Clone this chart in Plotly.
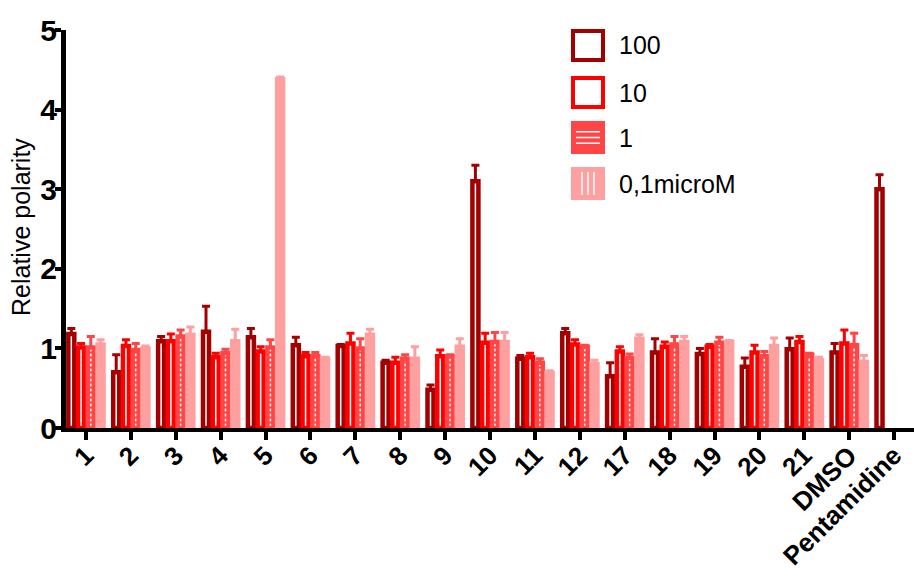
import plotly.graph_objects as go

# Compounds tested (x categories)
categories = ["1", "2", "3", "4", "5", "6", "7", "8", "9", "10", "11", "12",
              "17", "18", "19", "20", "21", "DMSO", "Pentamidine"]

# Relative polarity (mean) and SD per concentration
mean_100 = [1.18, 0.70, 1.09, 1.21, 1.14, 1.04, 1.03, 0.82, 0.48, 3.10,
            0.87, 1.19, 0.65, 0.95, 0.93, 0.77, 0.99, 0.95, 3.00]
sd_100 = [0.07, 0.22, 0.06, 0.32, 0.11, 0.10, 0.02, 0.03, 0.06, 0.20,
          0.04, 0.06, 0.17, 0.17, 0.07, 0.11, 0.14, 0.11, 0.18]

mean_10 = [1.01, 1.03, 1.09, 0.89, 0.96, 0.90, 1.06, 0.82, 0.90, 1.07,
           0.89, 1.05, 0.96, 1.02, 1.02, 0.95, 1.08, 1.06, None]
sd_10 = [0.05, 0.08, 0.09, 0.05, 0.06, 0.05, 0.13, 0.07, 0.08, 0.12,
         0.05, 0.06, 0.06, 0.06, 0.03, 0.09, 0.07, 0.17, None]

mean_1 = [1.01, 0.98, 1.15, 0.94, 1.01, 0.90, 1.00, 0.87, 0.90, 1.08,
          0.82, 1.02, 0.88, 1.05, 1.07, 0.90, 0.92, 1.04, None]
sd_1 = [0.14, 0.08, 0.08, 0.05, 0.10, 0.05, 0.12, 0.05, 0.02, 0.12,
        0.05, 0.02, 0.05, 0.10, 0.07, 0.06, 0.02, 0.15, None]

mean_01 = [1.05, 1.00, 1.17, 1.09, 4.38, 0.87, 1.17, 0.87, 1.02, 1.08,
           0.69, 0.80, 1.12, 1.08, 1.08, 1.03, 0.85, 0.83, None]
sd_01 = [0.06, 0.03, 0.10, 0.15, 0.03, 0.02, 0.07, 0.15, 0.10, 0.12,
         0.03, 0.05, 0.05, 0.07, 0.02, 0.10, 0.04, 0.08, None]

series_names = ["100", "10", "1", "0,1microM"]
colors = ["#A30000", "#FF0000", "#FF4545", "#FFA0A0"]

FONT = "Arial, Liberation Sans, sans-serif"

W, H = 914, 576
M_L, M_R, M_T, M_B = 66, 0, 30, 148
PLOT_W = W - M_L - M_R
PLOT_H = H - M_T - M_B

X_LO = -0.444
X_HI = X_LO + PLOT_W / 44.9
px_per_unit = PLOT_W / (X_HI - X_LO)

slot = 9.75 / px_per_unit          # width of each bar slot in category units
bar_w = 6.0 / px_per_unit          # drawn bar width (outline adds to it)
line_w = 4.5

fig = go.Figure()
xs = list(range(len(categories)))
all_means = [mean_100, mean_10, mean_1, mean_01]
all_sds = [sd_100, sd_10, sd_1, sd_01]

for i, (name, col, m, s) in enumerate(zip(series_names, colors, all_means, all_sds)):
    offset = -2 * slot + i * slot + (slot - bar_w) / 2
    marker = dict(color="white", line=dict(color=col, width=line_w))
    if i == 2:
        marker = dict(color=col, line=dict(color=col, width=line_w),
                      pattern=dict(shape="-", fgcolor=col, bgcolor="white",
                                   size=5, solidity=0.45, fillmode="replace"))
    elif i == 3:
        marker = dict(color=col, line=dict(color=col, width=line_w))
    fig.add_trace(go.Bar(
        x=xs, y=m, name=name, width=bar_w, offset=offset,
        marker=marker, showlegend=False,
        error_y=dict(type="data", symmetric=False, array=s,
                     arrayminus=[0] * len(s), color=col,
                     thickness=3, width=4),
    ))


def px_x(p):
    return (p - M_L) / PLOT_W


def px_y(p):
    return (H - M_B - p) / PLOT_H


# Legend keys drawn as shapes, labels as annotations
shapes = []
annotations = []
key_left, key_right = 573, 603
row_tops = [31, 78, 123, 169]
key_h = 29
for i, (name, col) in enumerate(zip(series_names, colors)):
    top = row_tops[i]
    bot = top + key_h
    fill = "white" if i < 2 else col
    shapes.append(dict(type="rect", xref="paper", yref="paper",
                       x0=px_x(key_left), x1=px_x(key_right),
                       y0=px_y(bot), y1=px_y(top),
                       line=dict(color=col, width=4), fillcolor=fill,
                       layer="above"))
    if i == 2:
        for k in range(1, 4):
            yy = top + 3 + k * (key_h - 6) / 4
            shapes.append(dict(type="line", xref="paper", yref="paper",
                               x0=px_x(key_left + 3), x1=px_x(key_right - 3),
                               y0=px_y(yy), y1=px_y(yy),
                               line=dict(color="white", width=1.5), layer="above"))
    if i == 3:
        for k in range(1, 4):
            xx = key_left + 3 + k * (key_right - key_left - 6) / 4
            shapes.append(dict(type="line", xref="paper", yref="paper",
                               x0=px_x(xx), x1=px_x(xx),
                               y0=px_y(top + 3), y1=px_y(bot - 3),
                               line=dict(color="white", width=1.5), layer="above"))
    annotations.append(dict(xref="paper", yref="paper",
                            x=px_x(617), y=px_y((top + bot) / 2),
                            xanchor="left", yanchor="middle", showarrow=False,
                            text=name,
                            font=dict(family=FONT, size=25, color="black")))

# Y-axis title
annotations.append(dict(xref="paper", yref="paper", x=px_x(21), y=px_y(227),
                        xanchor="center", yanchor="middle", showarrow=False,
                        textangle=-90, text="Relative polarity",
                        font=dict(family=FONT, size=25, color="black")))

fig.update_layout(
    width=W, height=H,
    margin=dict(l=M_L, r=M_R, t=M_T, b=M_B, pad=0),
    plot_bgcolor="white", paper_bgcolor="white",
    barmode="overlay",
    shapes=shapes, annotations=annotations,
    showlegend=False,
    xaxis=dict(range=[X_LO, X_HI], tickmode="array", tickvals=xs,
               ticktext=categories, tickangle=-45,
               tickfont=dict(family=FONT, size=26, color="black", weight="bold"),
               ticklabelstandoff=-10,
               ticks="outside", ticklen=8, tickwidth=4, tickcolor="black",
               showline=True, linewidth=4, linecolor="black",
               showgrid=False, zeroline=False, fixedrange=True),
    yaxis=dict(range=[0, 5], tickvals=[0, 1, 2, 3, 4, 5],
               tickfont=dict(family=FONT, size=30, color="black", weight="bold"),
               ticks="outside", ticklen=6, tickwidth=4, tickcolor="black",
               ticklabelstandoff=-8,
               showline=True, linewidth=5, linecolor="black",
               showgrid=False, zeroline=False, fixedrange=True),
)

fig.write_html("out.html")
